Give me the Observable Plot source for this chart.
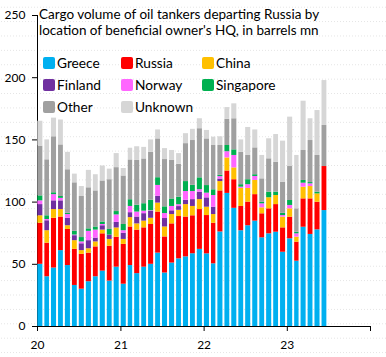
<!DOCTYPE html>
<html><head><meta charset="utf-8">
<script src="https://cdn.jsdelivr.net/npm/d3@7"></script>
<script src="https://cdn.jsdelivr.net/npm/@observablehq/plot@0.6"></script>
<style>
body{margin:0;background:#fff;}
#wrap{position:relative;width:386px;height:357px;font-family:Lato,sans-serif;color:#000;
 background-image:radial-gradient(circle,#e4e4e4 0.6px,transparent 0.9px);background-size:3px 14.4px;}
.tl{position:absolute;left:39px;font-size:13.5px;line-height:14.5px;height:14.5px;white-space:nowrap;}
#legend{position:absolute;left:43px;top:56px;display:grid;grid-template-columns:78px 81px 100px;row-gap:8px;font-size:13.7px;}
.item{display:flex;align-items:center;height:14px;line-height:14px;white-space:nowrap;}
.sw{width:12px;height:12px;border-radius:2px;margin-right:2px;}
</style></head>
<body>
<div id="wrap"><div id="chart"></div>
<div class="tl" style="top:6.5px">Cargo volume of oil tankers departing Russia by</div>
<div class="tl" style="top:23.2px">location of beneficial owner's HQ, in barrels mn</div>
<div id="legend"></div></div>
<script>
const months = ["2020-01","2020-02","2020-03","2020-04","2020-05","2020-06","2020-07","2020-08","2020-09","2020-10","2020-11","2020-12",
"2021-01","2021-02","2021-03","2021-04","2021-05","2021-06","2021-07","2021-08","2021-09","2021-10","2021-11","2021-12",
"2022-01","2022-02","2022-03","2022-04","2022-05","2022-06","2022-07","2022-08","2022-09","2022-10","2022-11","2022-12",
"2023-01","2023-02","2023-03","2023-04","2023-05","2023-06"];
const seriesNames = ["Greece","Russia","China","Finland","Norway","Singapore","Other","Unknown"];
const seriesColors = ["#00B0F0","#FF0000","#FFC000","#7030A0","#FF66FF","#00B050","#A0A0A0","#D6D6D6"];
const greece = [50,40,47,61,49,33,30,36,40,44.5,36.5,47.7,34,49,42.5,47.7,50,59,43,51,54.4,56,58.5,62,58.4,50.4,76,107,95,77,81,84.7,71.3,74.5,75.8,59.7,70.5,52.5,79.8,74,77.7,93.2];
const russia = [33,27,40,27,29,29,28,23,24,30,28,24,32,31,35,31.6,32,33,29,31.5,34,32,30.5,32,30.8,32.6,33,18,23,19.5,19,21.3,19.3,20.1,22.2,19.6,17.4,15.3,22.8,28.6,22.2,35.4];
const china = [6,10,7,6,3,7,3,3.5,4,3,5.5,7.5,4,7.5,5,5.4,5,7.2,8,7.5,5,10,7.5,8,6.7,7,7.5,10.5,9.5,14.5,11,11.4,4.8,8.9,7.3,8.6,6.7,4,9.4,9.9,6.7,0];
const finland = [9,8,7,7,6,4,5.5,6.5,3,3.5,3.5,4.5,5,4,5.5,6,5.5,5.4,6.8,3,3,3.5,5.5,6,7.5,5.9,2,0,0,0,0,0,0,0,0,0,0,0,0,0,0,0];
const norway = [3,1,5,2,3,0.5,1.5,7.5,6.5,1,0,6,2,5,4,2,0.5,8.8,4,3.5,1.5,7,6.5,2,3.8,9.4,2,5,10,1,3,3.2,3.2,0,0,1.3,2.7,2.7,3.2,2.2,0,0];
const singapore = [4,3,1.5,1.5,1,3,3.5,2,2.5,2,4.5,2.7,5,5.4,5.5,6,8.5,6.2,5.4,6,6,8,5,9.5,6.1,4.6,1,5,4.5,2,4,1.4,1.4,4.5,2.7,1.8,4,1.3,2.2,1,1.4,0];
const other = [40,45,45,41.5,35,39,33,33,29,33,40,35.3,39,32,36,36,38.5,31.2,38,31,26.5,30.5,36,39.5,37.5,35.6,24,21,25,26,19.5,21.6,18.7,26.8,24,25,27.3,18.8,24.1,33.8,29.5,33];
const unknown = [20,16,15,20,14,7,8,14,13,12,8.5,11.3,6,9.4,11,9.3,10,7.2,8.8,8,8.6,8,9,8,6.8,6.7,7,9.5,12,10,22.5,14.4,18.8,16.1,22.3,33,39.7,42.9,39.6,17.5,36.1,36.1];
const yTicks = [0,50,100,150,200,250];
const yearTicks = ["2020","2021","2022","2023","2024"];

const seriesValues = [greece,russia,china,finland,norway,singapore,other,unknown];
const data = [];
seriesNames.forEach((s,i) => months.forEach((m,j) => data.push({date:new Date(m+"-01"), series:s, value:seriesValues[i][j]})));

const chart = Plot.plot({
  width:386, height:357,
  marginLeft:37, marginRight:16, marginTop:15, marginBottom:31,
  style:{background:"transparent", fontFamily:"Lato, sans-serif", fontSize:"12px", color:"#000"},
  x:{type:"utc", domain:[new Date("2020-01-01"), new Date("2024-01-01")], ticks:yearTicks.map(y=>new Date(y+"-01-01")),
     tickFormat:d => d.getUTCFullYear()===2024 ? "" : String(d.getUTCFullYear()).slice(2), tickSize:5, tickPadding:9, line:true, label:null},
  y:{domain:[0,250], ticks:yTicks, tickSize:5, tickPadding:7, line:true, label:null},
  color:{domain:seriesNames, range:seriesColors},
  marks:[
    Plot.rectY(data, {x:"date", interval:d3.utcMonth, y:"value", fill:"series", insetLeft:0.3, insetRight:1.7})
  ]
});
document.getElementById("chart").appendChild(chart);

const leg = document.getElementById("legend");
seriesNames.forEach((s,i) => {
  const it = document.createElement("div"); it.className="item";
  const sw = document.createElement("div"); sw.className="sw"; sw.style.background=seriesColors[i];
  const t = document.createElement("span"); t.textContent=s;
  it.appendChild(sw); it.appendChild(t); leg.appendChild(it);
});
</script>
</body></html>
